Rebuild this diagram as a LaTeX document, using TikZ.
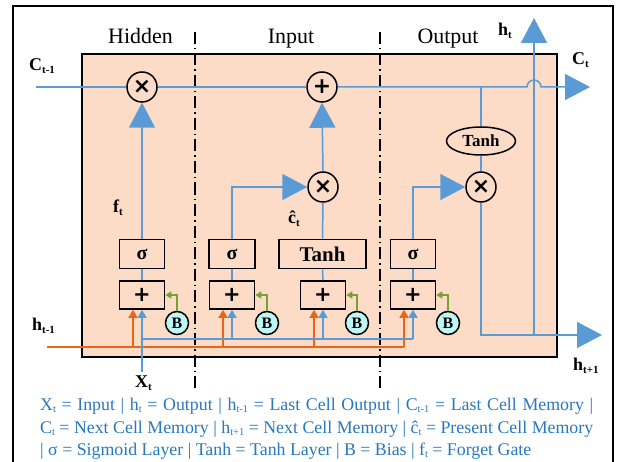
\documentclass[tikz,border=0pt]{standalone}
\usepackage{fontspec}
\setmainfont{Liberation Serif}
\newfontfamily\dvs{DejaVu Sans}
\usetikzlibrary{arrows.meta,shapes.geometric}
\definecolor{lblue}{RGB}{91,155,213}
\definecolor{lorange}{RGB}{232,101,26}
\definecolor{lgreen}{RGB}{120,160,50}
\definecolor{peach}{RGB}{252,219,199}
\definecolor{bcyan}{RGB}{190,245,245}
\definecolor{tblue}{RGB}{40,120,190}
\newcommand\lsub[2]{\raisebox{-0.35ex}{\fontsize{#1}{#1}\selectfont #2}}
\begin{document}
\begin{tikzpicture}[x=1bp,y=-1bp,
  bl/.style={draw=lblue, line width=1.5bp},
  orl/.style={draw=lorange, line width=1.5bp},
  grl/.style={draw=lgreen, line width=1.5bp},
  bigtip/.style={-{Triangle[length=25bp,width=26bp]}},
  smalltip/.style={-{Triangle[length=8bp,width=9bp]}},
  greentip/.style={-{Triangle[length=6bp,width=7bp]}},
  opc/.style={circle, draw, line width=1.5bp, minimum size=30bp, inner sep=0pt, font=\dvs\bfseries\fontsize{22}{22}\selectfont},
  gate/.style={draw, line width=1.6bp, minimum height=29bp, inner sep=0pt, font=\bfseries\fontsize{20}{20}\selectfont},
  addbox/.style={draw, line width=1.6bp, minimum width=45bp, minimum height=28bp, inner sep=0pt, font=\dvs\bfseries\fontsize{21}{21}\selectfont},
  bias/.style={circle, draw, fill=bcyan, line width=1.5bp, minimum size=23bp, inner sep=0pt, font=\bfseries\fontsize{16}{16}\selectfont},
  lab/.style={anchor=west, inner sep=0pt, font=\bfseries\fontsize{18}{18}\selectfont},
  hdr/.style={anchor=base, inner sep=0pt, font=\fontsize{22}{22}\selectfont},
  legend/.style={anchor=base west, inner sep=0pt, text=tblue, font=\fontsize{17.9}{17.9}\selectfont},
  divider/.style={line width=1.6bp, dash pattern=on 12bp off 4bp on 1.5bp off 4bp}
]
\useasboundingbox (0,0) rectangle (619,462);
% outer frame
\draw[line width=2bp] (13,480) -- (13,6) -- (613,6) -- (613,480);
% cell
\node[draw, line width=1.8bp, fill=peach, minimum width=475bp, minimum height=303bp, inner sep=0pt] (cell) at (319.5,205.5) {};
% dividers
\draw[divider] (195,32) -- (195,392);
\draw[divider] (380,32) -- (380,392);
% headers
\node[hdr] (hHidden) at (140.5,44) {Hidden};
\node[hdr] (hInput) at (291,44) {Input};
\node[hdr] (hOutput) at (448,44) {Output};
% operators
\node[opc] (mulF) at (142,87) {×};
\node[opc] (addC) at (322,87) {+};
\node[opc] (mulI) at (323,187) {×};
\node[opc] (mulO) at (481,187) {×};
\node[ellipse, draw, line width=1.5bp, minimum width=69bp, minimum height=28bp, inner sep=0pt, font=\bfseries\fontsize{17}{17}\selectfont] (tanhO) at (481,141) {Tanh};
% gates
\node[gate, minimum width=45bp] (sigF) at (142,254) {σ};
\node[addbox] (addF) at (142,295) {+};
\node[gate, minimum width=46bp] (sigI) at (232,254) {σ};
\node[addbox] (addI) at (232,295) {+};
\node[gate, minimum width=87bp, font=\bfseries\fontsize{21}{21}\selectfont] (tanhI) at (322.5,254) {Tanh};
\node[addbox] (addT) at (323,295) {+};
\node[gate, minimum width=45bp] (sigO) at (413,254) {σ};
\node[addbox] (addO) at (413,295) {+};
% biases
\node[bias] (bF) at (177,323) {B};
\node[bias] (bI) at (267,323) {B};
\node[bias] (bT) at (357,323) {B};
\node[bias] (bO) at (448,323) {B};
% coordinates
\coordinate (cin) at (36,87);
\coordinate (hopL) at (527,87);
\coordinate (ctTip) at (590,87);
\coordinate (cJ) at (481,87);
\coordinate (hJ) at (534,335);
\coordinate (htTip) at (534,18);
\coordinate (htpTip) at (602,335);
\coordinate (xS) at (142,372);
\coordinate (bJ1) at (142,339);
\coordinate (bJ2) at (232,339);
\coordinate (bJ3) at (323,339);
\coordinate (bJ4) at (413,339);
\coordinate (oS) at (47,347);
\coordinate (oJ1) at (133,347);
\coordinate (oJ2) at (223,347);
\coordinate (oJ3) at (314,347);
\coordinate (oJ4) at (404,347);
% cell state line
\draw[bl] (cin) -- (mulF.west);
\draw[bl] (mulF.east) -- (addC.west);
\draw[bl, bigtip] (addC.east) -- (hopL) arc[start angle=180, end angle=0, radius=7bp] -- (ctTip);
% output path
\draw[bl] (cJ) -- (tanhO.north);
\draw[bl] (tanhO.south) -- (mulO.north);
\draw[bl, bigtip] (mulO.south) |- (htpTip);
\draw[bl, bigtip] (hJ) -- (htTip);
% gates to operators
\draw[bl] (addF.north) -- (sigF.south);
\draw[bl, bigtip] (sigF.north) -- (mulF.south);
\draw[bl] (addI.north) -- (sigI.south);
\draw[bl, bigtip] (sigI.north) |- (mulI.west);
\draw[bl] (addT.north) -- (tanhI.south);
\draw[bl] (tanhI.north) -- (mulI.south);
\draw[bl, bigtip] (mulI.north) -- (addC.south);
\draw[bl] (addO.north) -- (sigO.south);
\draw[bl, bigtip] (sigO.north) |- (mulO.west);
% biases
\draw[grl, greentip] (bF.north) |- (addF.east);
\draw[grl, greentip] (bI.north) |- (addI.east);
\draw[grl, greentip] (bT.north) |- (addT.east);
\draw[grl, greentip] (bO.north) |- (addO.east);
% h_{t-1}
\draw[orl] (oS) -- (oJ4);
\draw[orl, smalltip] (oJ1) -- (addF.south -| oJ1);
\draw[orl, smalltip] (oJ2) -- (addI.south -| oJ2);
\draw[orl, smalltip] (oJ3) -- (addT.south -| oJ3);
\draw[orl, smalltip] (oJ4) -- (addO.south -| oJ4);
% X_t
\draw[bl] (bJ1) -- (bJ4);
\draw[bl, smalltip] (xS) -- (addF.south);
\draw[bl, smalltip] (bJ2) -- (addI.south);
\draw[bl, smalltip] (bJ3) -- (addT.south);
\draw[bl, smalltip] (bJ4) -- (addO.south);
% labels
\node[lab] (lCin) at (29,66) {C\lsub{11}{t-1}};
\node[lab] (lCt) at (572,60) {C\lsub{11}{t}};
\node[lab] (lht) at (498,31) {h\lsub{11}{t}};
\node[lab] (lhtp) at (573,366) {h\lsub{11}{t+1}};
\node[lab] (lhtm) at (32,326) {h\lsub{11}{t-1}};
\node[lab] (lXt) at (135,383) {X\lsub{11}{t}};
\node[lab] (lft) at (113,208) {f\lsub{11}{t}};
\node[lab] (lct) at (288,219) {ĉ\lsub{11}{t}};
% legend
\node[legend] (leg1) at (40,410) {\makebox[553bp][s]{X\lsub{10.5}{t} = Input | h\lsub{10.5}{t} = Output | h\lsub{10.5}{t-1} = Last Cell Output | C\lsub{10.5}{t-1} = Last Cell Memory |}};
\node[legend] (leg2) at (40,433) {\makebox[553bp][s]{C\lsub{10.5}{t} = Next Cell Memory | h\lsub{10.5}{t+1} = Next Cell Memory | ĉ\lsub{10.5}{t} = Present Cell Memory}};
\node[legend] (leg3) at (40,455) {| σ = Sigmoid Layer | Tanh = Tanh Layer | B = Bias | f\lsub{10.5}{t} = Forget Gate};
\end{tikzpicture}
\end{document}
